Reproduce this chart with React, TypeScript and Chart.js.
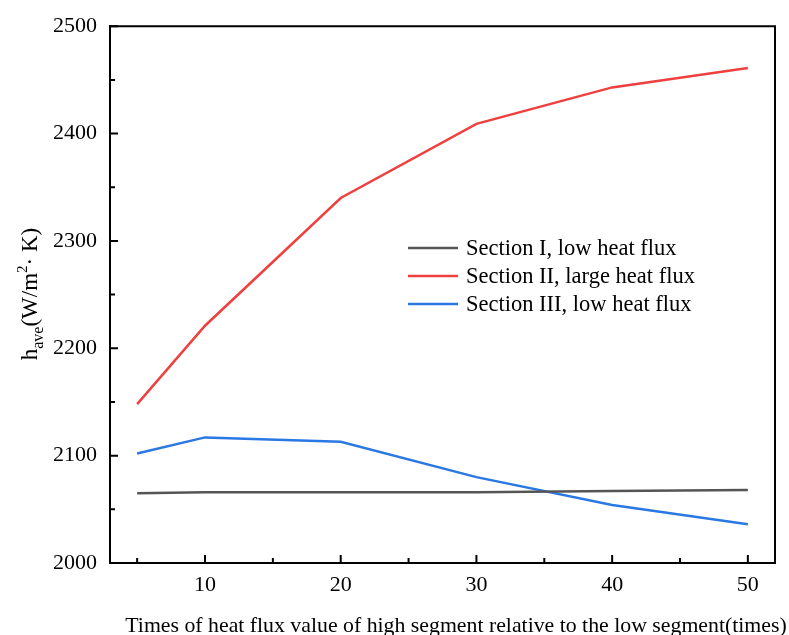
import React, { useEffect, useRef } from "react";
import { Chart, registerables } from "chart.js";

Chart.register(...registerables);

// Heat-flux ratio (times) at which each case was evaluated
const xValues = [5, 10, 20, 30, 40, 50];
// Average heat transfer coefficient h_ave, W/(m²·K)
const sectionI = [2065, 2066, 2066, 2066, 2067, 2068];
const sectionII = [2148, 2221, 2340, 2409, 2443, 2461];
const sectionIII = [2102, 2117, 2113, 2080, 2054, 2036];

const seriesLabels = [
  "Section I, low heat flux",
  "Section II, large heat flux",
  "Section III, low heat flux",
];
const seriesColors = ["#555555", "#ef4040", "#2a78e4"];

const xMajorTicks = [10, 20, 30, 40, 50];
const xMinorTicks = [5, 15, 25, 35, 45];
const yMajorTicks = [2000, 2100, 2200, 2300, 2400, 2500];
const yMinorTicks = [2050, 2150, 2250, 2350, 2450];

const xTitle =
  "Times of heat flux value of high segment relative to the low segment(times)";

const SERIF = '"Liberation Serif", "Times New Roman", serif';

const framePlugin = {
  id: "frame",
  afterDraw(chart: any) {
    const { ctx, chartArea } = chart;
    const { left, right, top, bottom } = chartArea;
    const xs = chart.scales.x;
    const ys = chart.scales.y;
    ctx.save();
    ctx.strokeStyle = "#000";
    ctx.lineWidth = 2;
    // top and right frame lines
    ctx.beginPath();
    ctx.moveTo(left, top);
    ctx.lineTo(right, top);
    ctx.lineTo(right, bottom);
    ctx.stroke();

    // inward tick marks
    ctx.beginPath();
    xMajorTicks.forEach((v) => {
      const px = xs.getPixelForValue(v);
      ctx.moveTo(px, bottom);
      ctx.lineTo(px, bottom - 8);
    });
    xMinorTicks.forEach((v) => {
      const px = xs.getPixelForValue(v);
      ctx.moveTo(px, bottom);
      ctx.lineTo(px, bottom - 5);
    });
    yMajorTicks.forEach((v) => {
      const py = ys.getPixelForValue(v);
      ctx.moveTo(left, py);
      ctx.lineTo(left + 8, py);
    });
    yMinorTicks.forEach((v) => {
      const py = ys.getPixelForValue(v);
      ctx.moveTo(left, py);
      ctx.lineTo(left + 5, py);
    });
    ctx.stroke();

    // legend
    const legendLineX0 = 408;
    const legendLineX1 = 458;
    const legendTextX = 466;
    const legendY0 = 248;
    const legendStep = 28;
    ctx.font = `22.5px ${SERIF}`;
    ctx.textBaseline = "middle";
    ctx.textAlign = "left";
    seriesLabels.forEach((label, i) => {
      const y = legendY0 + i * legendStep;
      ctx.strokeStyle = seriesColors[i];
      ctx.lineWidth = 2.5;
      ctx.beginPath();
      ctx.moveTo(legendLineX0, y);
      ctx.lineTo(legendLineX1, y);
      ctx.stroke();
      ctx.fillStyle = "#000";
      ctx.fillText(label, legendTextX, y + 1);
    });

    // x axis title
    ctx.fillStyle = "#000";
    ctx.font = `21.8px ${SERIF}`;
    ctx.textAlign = "center";
    ctx.textBaseline = "alphabetic";
    ctx.fillText(xTitle, 456, 632);

    // y axis title with subscript and superscript
    const parts = [
      { t: "h", size: 23, dy: 0 },
      { t: "ave", size: 16, dy: 6 },
      { t: "(W/m", size: 23, dy: 0 },
      { t: "2", size: 15, dy: -10 },
      { t: "· K)", size: 23, dy: 0 },
    ];
    let total = 0;
    parts.forEach((p) => {
      ctx.font = `${p.size}px ${SERIF}`;
      total += ctx.measureText(p.t).width;
    });
    ctx.translate(37, 294);
    ctx.rotate(-Math.PI / 2);
    ctx.textAlign = "left";
    let cx = -total / 2;
    parts.forEach((p) => {
      ctx.font = `${p.size}px ${SERIF}`;
      ctx.fillText(p.t, cx, p.dy);
      cx += ctx.measureText(p.t).width;
    });
    ctx.restore();
  },
};

export default function App() {
  const canvasRef = useRef<HTMLCanvasElement>(null);

  useEffect(() => {
    const makePoints = (ys: number[]) =>
      xValues.map((x, i) => ({ x, y: ys[i] }));
    const series = [sectionI, sectionII, sectionIII];

    const chart = new Chart(canvasRef.current!, {
      type: "line",
      data: {
        datasets: series.map((s, i) => ({
          label: seriesLabels[i],
          data: makePoints(s),
          borderColor: seriesColors[i],
          backgroundColor: seriesColors[i],
          borderWidth: 2.5,
          pointRadius: 0,
          tension: 0,
        })),
      },
      options: {
        animation: false,
        responsive: true,
        maintainAspectRatio: false,
        layout: { padding: { top: 24, right: 14, left: 0, bottom: 0 } },
        plugins: {
          legend: { display: false },
          tooltip: { enabled: false },
        },
        scales: {
          x: {
            type: "linear",
            min: 3,
            max: 52,
            afterBuildTicks: (scale: any) => {
              scale.ticks = xMajorTicks.map((v) => ({ value: v }));
            },
            afterFit: (scale: any) => {
              scale.height = 72;
            },
            grid: { display: false, drawTicks: false },
            border: { display: true, color: "#000", width: 2 },
            ticks: {
              color: "#000",
              padding: 9,
              font: { family: SERIF, size: 22 },
              maxRotation: 0,
              callback: (v: any) => String(v),
            },
          },
          y: {
            type: "linear",
            min: 2000,
            max: 2500,
            afterBuildTicks: (scale: any) => {
              scale.ticks = yMajorTicks.map((v) => ({ value: v }));
            },
            afterFit: (scale: any) => {
              scale.width = 110;
            },
            grid: { display: false, drawTicks: false },
            border: { display: true, color: "#000", width: 2 },
            ticks: {
              color: "#000",
              padding: 13,
              font: { family: SERIF, size: 22 },
              callback: (v: any) => String(v),
            },
          },
        },
      },
      plugins: [framePlugin],
    });
    return () => chart.destroy();
  }, []);

  return (
    <div
      style={{
        position: "absolute",
        left: 0,
        top: 0,
        width: 789,
        height: 635,
        background: "#fff",
      }}
    >
      <canvas ref={canvasRef} />
    </div>
  );
}
